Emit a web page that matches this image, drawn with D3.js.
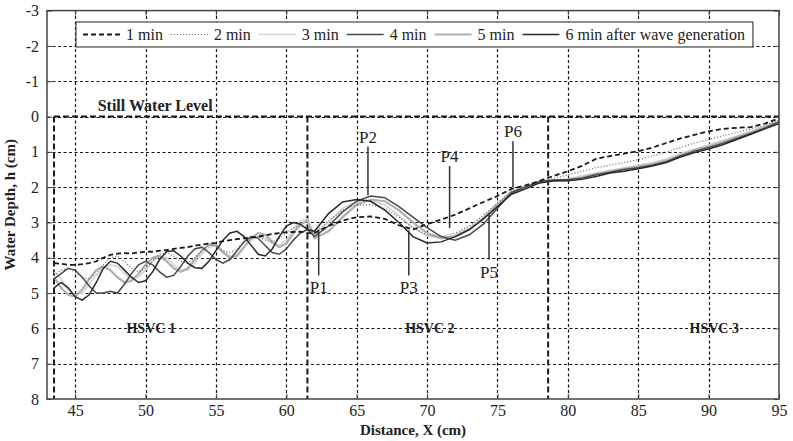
<!DOCTYPE html>
<html>
<head>
<meta charset="utf-8">
<script src="https://cdn.jsdelivr.net/npm/d3@7"></script>
<style>
  body { margin: 0; background: #fff; }
  text { font-family: "Liberation Serif", "Times New Roman", serif; fill: #222; }
</style>
</head>
<body>
<svg width="793" height="441"></svg>
<script>
// distance along flume (cm)
const xs = [43.5,44,44.5,45,45.5,46,46.5,47,47.5,48,48.5,49,49.5,50,50.5,51,51.5,52,52.5,53,53.5,54,54.5,55,55.5,56,56.5,57,57.5,58,58.5,59,59.5,60,60.5,61,61.5,
  62,63,64,65,66,67,68,69,70,71,72,73,74,75,76,77,78,79,80,81,82,83,84,85,86,87,88,89,90,91,92,93,94,95];

// water depth h (cm) for each time after wave generation
const min1 = [4.15,4.17,4.2,4.2,4.18,4.15,4.1,4.0,3.92,3.88,3.87,3.88,3.85,3.83,3.83,3.8,3.78,3.75,3.72,3.7,3.66,3.63,3.6,3.58,3.53,3.5,3.47,3.45,3.43,3.4,3.37,3.33,3.3,3.28,3.27,3.26,3.3,
  3.3,3.1,2.95,2.85,2.83,2.9,3.08,3.2,3.05,2.92,2.78,2.6,2.42,2.25,2.05,1.95,1.82,1.68,1.55,1.4,1.2,1.12,1.05,0.98,0.88,0.75,0.62,0.52,0.42,0.35,0.32,0.3,0.2,0.05];
const min2 = [4.5,4.35,4.3,4.4,4.55,4.6,4.45,4.2,4.0,3.95,4.1,4.3,4.4,4.3,4.1,3.9,3.85,3.95,4.1,4.15,4.0,3.8,3.65,3.65,3.8,3.85,3.75,3.55,3.4,3.4,3.5,3.55,3.45,3.3,3.15,3.1,3.15,
  3.3,2.95,2.65,2.5,2.5,2.6,2.85,3.15,3.35,3.4,3.3,3.1,2.8,2.45,2.12,1.97,1.83,1.75,1.65,1.55,1.45,1.38,1.3,1.22,1.12,1.0,0.88,0.75,0.65,0.55,0.45,0.35,0.25,0.1];
const min3 = [4.4,4.6,4.9,5.05,5.0,4.75,4.5,4.3,4.2,4.25,4.45,4.6,4.55,4.35,4.1,3.95,4.0,4.2,4.35,4.35,4.15,3.9,3.7,3.65,3.8,3.95,3.9,3.7,3.5,3.4,3.45,3.6,3.65,3.5,3.2,2.95,2.9,
  3.35,3.0,2.6,2.42,2.38,2.5,2.8,3.15,3.38,3.45,3.35,3.15,2.85,2.45,2.12,1.98,1.84,1.8,1.76,1.68,1.6,1.52,1.45,1.38,1.3,1.2,1.05,0.92,0.8,0.68,0.55,0.42,0.28,0.12];
const min4 = [4.6,4.45,4.3,4.35,4.55,4.8,5.0,5.0,4.95,5.0,4.75,4.45,4.2,4.1,4.2,4.4,4.55,4.5,4.25,3.95,3.75,3.7,3.85,4.05,4.15,4.05,3.8,3.55,3.4,3.45,3.65,3.85,3.9,3.75,3.5,3.3,3.2,
  3.4,3.1,2.7,2.4,2.25,2.3,2.55,2.85,3.15,3.4,3.5,3.35,3.05,2.6,2.15,2.0,1.85,1.8,1.78,1.75,1.65,1.58,1.5,1.45,1.38,1.28,1.12,0.98,0.88,0.76,0.62,0.48,0.33,0.15];
const min5 = [4.55,4.85,5.05,5.1,4.9,4.6,4.35,4.25,4.35,4.55,4.7,4.65,4.45,4.2,4.0,3.95,4.1,4.3,4.4,4.3,4.05,3.8,3.62,3.65,3.85,4.0,3.95,3.7,3.45,3.3,3.35,3.55,3.7,3.6,3.3,3.05,2.95,
  3.45,3.25,2.85,2.5,2.35,2.4,2.65,3.0,3.3,3.45,3.4,3.2,2.9,2.5,2.15,2.0,1.85,1.82,1.8,1.72,1.63,1.55,1.48,1.42,1.35,1.25,1.1,0.95,0.85,0.72,0.58,0.45,0.3,0.15];
const min6 = [4.85,4.7,4.85,5.1,5.2,5.05,4.7,4.3,4.1,4.15,4.35,4.55,4.7,4.65,4.4,4.05,3.82,3.8,3.95,4.15,4.28,4.3,4.1,3.8,3.5,3.3,3.25,3.4,3.65,3.9,3.95,3.75,3.4,3.1,3.0,3.05,3.2,
  3.25,2.75,2.42,2.35,2.4,2.65,3.0,3.4,3.58,3.55,3.4,3.2,2.9,2.55,2.2,2.05,1.88,1.82,1.82,1.78,1.7,1.6,1.55,1.48,1.4,1.3,1.15,1.02,0.92,0.8,0.65,0.5,0.35,0.2];

const seriesNames = ['1 min', '2 min', '3 min', '4 min', '5 min', '6 min after wave generation'];
const seriesValues = [min1, min2, min3, min4, min5, min6];
const seriesColors = ['#1a1a1a', '#666', '#d4d4d4', '#4a4a4a', '#b0b0b0', '#2a2a2a'];
const seriesWidths = [1.8, 1.2, 1.6, 1.5, 2.2, 1.5];
const seriesDash = ['5,3', '1,2', null, null, null, null];

const xTicks = [45, 50, 55, 60, 65, 70, 75, 80, 85, 90, 95];
const yTicks = [-3, -2, -1, 0, 1, 2, 3, 4, 5, 6, 7, 8];

// control volume boundaries (cm) and labels
const hsvcBounds = [43.5, 61.5, 78.6];
const hsvcNames = ['HSVC 1', 'HSVC 2', 'HSVC 3'];
const hsvcLabelX = [50.4, 70.2, 90.4];

// measurement points P1..P6: x, line from/to depth
const pNames = ['P1', 'P2', 'P3', 'P4', 'P5', 'P6'];
const pX = [62.3, 65.8, 68.7, 71.6, 74.4, 76.1];
const pFrom = [3.2, 2.23, 3.22, 3.16, 2.74, 2.0];
const pTo = [4.5, 0.85, 4.5, 1.4, 4.05, 0.7];

const width = 793, height = 441;
const margin = {top: 10.6, right: 14, bottom: 42, left: 47};

const svg = d3.select('svg');
const x = d3.scaleLinear().domain([43, 95]).range([margin.left, width - margin.right]);
const y = d3.scaleLinear().domain([-3, 8]).range([margin.top, height - margin.bottom]);

// grid
const grid = svg.append('g').attr('stroke', '#111').attr('stroke-width', 1.2)
  .attr('stroke-dasharray', '3,2.5');
grid.selectAll('.gx').data(xTicks.slice(0, -1)).join('line')
  .attr('x1', d => Math.round(x(d)) + 0.5).attr('x2', d => Math.round(x(d)) + 0.5)
  .attr('y1', y(-3)).attr('y2', y(8));
grid.selectAll('.gy').data(yTicks.slice(1, -1)).join('line')
  .attr('x1', x(43)).attr('x2', x(95))
  .attr('y1', d => Math.round(y(d)) + 0.5).attr('y2', d => Math.round(y(d)) + 0.5);

// still water level + control volume boxes
const box = svg.append('g').attr('stroke', '#1a1a1a').attr('stroke-width', 2).attr('stroke-dasharray', '6,3').attr('fill', 'none');
box.append('line').attr('x1', x(43.5)).attr('x2', x(95)).attr('y1', y(0)).attr('y2', y(0));
box.selectAll('.vb').data(hsvcBounds).join('line')
  .attr('x1', d => x(d)).attr('x2', d => x(d))
  .attr('y1', y(0)).attr('y2', y(8));

svg.append('text').attr('x', x(46.6)).attr('y', y(-0.17))
  .attr('font-size', 16).attr('font-weight', 'bold').text('Still Water Level');

svg.selectAll('.hsvc').data(hsvcNames).join('text')
  .attr('x', (d, i) => x(hsvcLabelX[i])).attr('y', y(6) + 5)
  .attr('text-anchor', 'middle').attr('font-size', 14).attr('font-weight', 'bold')
  .attr('fill', '#333').text(d => d);

// series lines
const line = d3.line().x((d, i) => x(xs[i])).y(d => y(d));
const drawOrder = [2, 4, 1, 3, 5, 0];
drawOrder.forEach(i => {
  svg.append('path')
    .datum(seriesValues[i])
    .attr('d', line)
    .attr('fill', 'none')
    .attr('stroke', seriesColors[i])
    .attr('stroke-width', seriesWidths[i])
    .attr('stroke-dasharray', seriesDash[i]);
});

// P markers
const pg = svg.append('g');
pg.selectAll('line').data(pNames).join('line')
  .attr('x1', (d, i) => x(pX[i])).attr('x2', (d, i) => x(pX[i]))
  .attr('y1', (d, i) => y(pFrom[i])).attr('y2', (d, i) => y(pTo[i]))
  .attr('stroke', '#333').attr('stroke-width', 1.5);
pg.selectAll('text').data(pNames).join('text')
  .attr('x', (d, i) => x(pX[i]))
  .attr('y', (d, i) => pTo[i] > pFrom[i] ? y(pTo[i]) + 18 : y(pTo[i]) - 4)
  .attr('text-anchor', 'middle').attr('font-size', 17).attr('fill', '#333')
  .text(d => d);

// frame
svg.append('rect').attr('x', x(43)).attr('y', y(-3))
  .attr('width', x(95) - x(43)).attr('height', y(8) - y(-3))
  .attr('fill', 'none').attr('stroke', '#444').attr('stroke-width', 1.5);

// axes with inner ticks
const xAxis = svg.append('g').attr('transform', `translate(0,${y(8)})`)
  .call(d3.axisBottom(x).tickValues(xTicks).tickSize(-5).tickPadding(6));
const xTop = svg.append('g').attr('transform', `translate(0,${y(-3)})`)
  .call(d3.axisTop(x).tickValues(xTicks).tickSize(-5).tickFormat(''));
const yAxis = svg.append('g').attr('transform', `translate(${x(43)},0)`)
  .call(d3.axisLeft(y).tickValues(yTicks).tickSize(-5).tickPadding(8).tickFormat(d => String(d)));
const yRight = svg.append('g').attr('transform', `translate(${x(95)},0)`)
  .call(d3.axisRight(y).tickValues(yTicks).tickSize(-5).tickFormat(''));
[xAxis, xTop, yAxis, yRight].forEach(a => {
  a.select('.domain').remove();
  a.selectAll('line').attr('stroke', '#444');
  a.selectAll('text').attr('font-family', '"Liberation Serif", serif').attr('font-size', 16).attr('fill', '#333');
});

svg.append('text').attr('x', (x(43) + x(95)) / 2).attr('y', 435)
  .attr('text-anchor', 'middle').attr('font-size', 15).attr('font-weight', 'bold')
  .text('Distance, X (cm)');
svg.append('text')
  .attr('transform', `translate(15,${(y(-3) + y(8)) / 2}) rotate(-90)`)
  .attr('text-anchor', 'middle').attr('font-size', 15).attr('font-weight', 'bold')
  .text('Water Depth, h (cm)');

// legend
const legend = svg.append('g');
const lbox = legend.append('rect').attr('x', 76).attr('y', 22).attr('width', 676).attr('height', 25)
  .attr('fill', '#fff').attr('stroke', '#444').attr('stroke-width', 1.2);
let lx = 83;
seriesNames.forEach((name, i) => {
  legend.append('line')
    .attr('x1', lx).attr('x2', lx + 37).attr('y1', 34.5).attr('y2', 34.5)
    .attr('stroke', seriesColors[i]).attr('stroke-width', seriesWidths[i])
    .attr('stroke-dasharray', seriesDash[i]);
  const t = legend.append('text').attr('x', lx + 43).attr('y', 40)
    .attr('font-size', 16).attr('fill', '#333').text(name);
  lx += 43 + t.node().getComputedTextLength() + 8;
});
lbox.attr('width', lx - 76);
</script>
</body>
</html>
